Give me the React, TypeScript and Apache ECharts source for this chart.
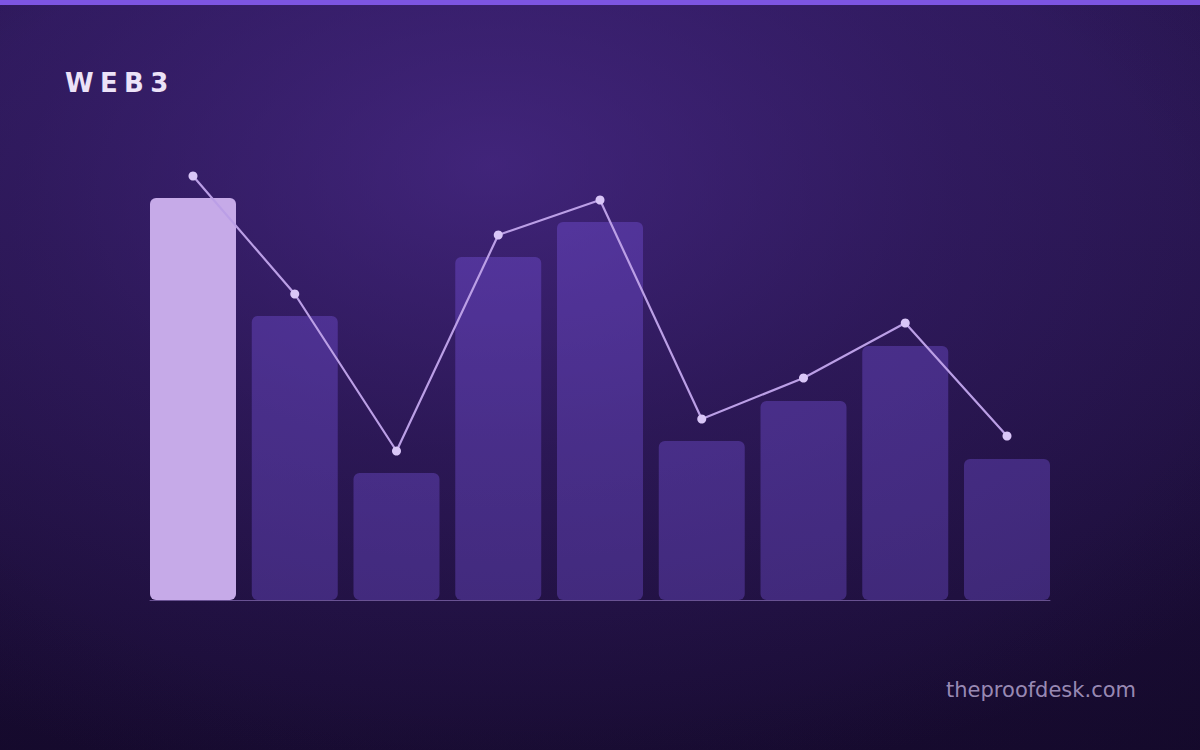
import React, { useEffect, useRef } from "react";
import * as echarts from "echarts";

const categories = ["1", "2", "3", "4", "5", "6", "7", "8", "9"];
const barValues = [100.5, 71, 31.75, 85.75, 94.5, 39.75, 49.75, 63.5, 35.25];
const lineValues = [106, 76.5, 37.25, 91.25, 100, 45.25, 55.5, 69.25, 41];
const titleLetters = ["W", "E", "B", "3"];
const footerText = "theproofdesk.com";

export default function App() {
  const ref = useRef<HTMLDivElement>(null);
  useEffect(() => {
    if (!ref.current) return;
    const chart = echarts.init(ref.current, undefined, { renderer: "svg" });
    const option: any = {
      animation: false,
      backgroundColor: "#1d0f3a",
      graphic: [
        {
          type: "rect",
          z: -10,
          silent: true,
          shape: { x: 0, y: 0, width: 1200, height: 750 },
          style: {
            fill: new echarts.graphic.LinearGradient(0, 0, 0, 1, [
              { offset: 0, color: "#27154f" },
              { offset: 1, color: "#170b30" },
            ]),
          },
        },
        {
          type: "rect",
          z: -9,
          silent: true,
          shape: { x: 0, y: 0, width: 1200, height: 750 },
          style: {
            fill: new echarts.graphic.RadialGradient(0.41, 0.22, 0.85, [
              { offset: 0, color: "rgba(84, 48, 155, 0.6)" },
              { offset: 0.45, color: "rgba(80, 45, 150, 0.28)" },
              { offset: 1, color: "rgba(80, 45, 150, 0)" },
            ]),
          },
        },
        {
          type: "rect",
          z: -8,
          silent: true,
          shape: { x: 0, y: 0, width: 1200, height: 750 },
          style: {
            fill: new echarts.graphic.RadialGradient(0.45, 0.4, 1.0, [
              { offset: 0.55, color: "rgba(12, 4, 26, 0)" },
              { offset: 1, color: "rgba(12, 4, 26, 0.35)" },
            ]),
          },
        },
        {
          type: "rect",
          silent: true,
          shape: { x: 0, y: 0, width: 1200, height: 5 },
          style: { fill: "#7d55e2" },
        },
        {
          type: "text",
          left: 65,
          top: 70,
          style: {
            text: titleLetters.map((l) => "{l|" + l + "}").join(""),
            rich: {
              l: {
                fontSize: 26,
                fontWeight: "bold",
                fontFamily: "DejaVu Sans",
                fill: "#ece3f8",
                padding: [0, 6.3, 0, 0],
              },
            },
          },
        },
        {
          type: "text",
          right: 64,
          top: 679,
          style: {
            text: footerText,
            fontSize: 21,
            fontFamily: "DejaVu Sans",
            fill: "rgba(188, 172, 215, 0.8)",
          },
        },
      ],
      grid: { left: 150, right: 150, top: 120, bottom: 150 },
      xAxis: {
        type: "value",
        min: -0.4226,
        max: 8.4226,
        axisLine: { show: true, lineStyle: { color: "rgba(175, 145, 225, 0.5)", width: 1 } },
        axisTick: { show: false },
        axisLabel: { show: false },
        splitLine: { show: false },
      },
      yAxis: {
        type: "value",
        min: 0,
        max: 120,
        show: false,
        splitLine: { show: false },
      },
      series: [
        {
          type: "bar",
          barWidth: 86,
          data: barValues.map((v, i) => ({
            value: [i, v],
            name: categories[i],
            itemStyle: {
              color: i === 0 ? "#c6aae8" : "rgba(140, 100, 255, 0.3)",
              borderRadius: 6,
            },
          })),
        },
        {
          type: "line",
          data: lineValues.map((v, i) => [i, v]),
          symbol: "circle",
          symbolSize: 9,
          lineStyle: { color: "#bb9fe6", width: 2.2 },
          itemStyle: { color: "#d9c6f7" },
          z: 5,
        },
      ],
    };
    chart.setOption(option);
    return () => chart.dispose();
  }, []);
  return (
    <div
      ref={ref}
      style={{ position: "absolute", left: 0, top: 0, width: 1200, height: 750 }}
    />
  );
}
